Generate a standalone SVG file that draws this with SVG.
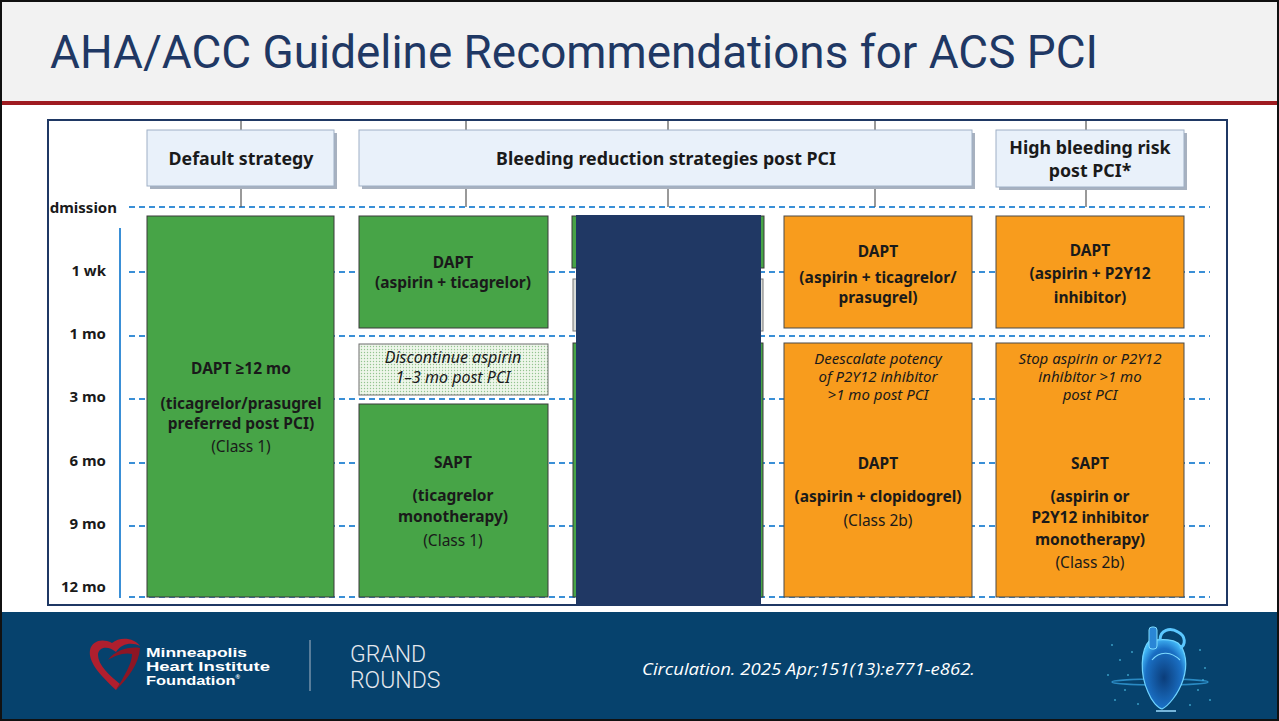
<svg xmlns="http://www.w3.org/2000/svg" width="1279" height="721" viewBox="0 0 1279 721">
  <defs>
    <style>
      .hdr { fill: #e9f1fa; stroke: #9fb0c6; stroke-width: 1; }
      .shadow { fill: #a7b1bf; }
      .green { fill: #47a447; stroke: #3a3a3a; stroke-width: 1; }
      .orange { fill: #f89c1d; stroke: #4a4a4a; stroke-width: 1; }
      .grid { stroke: #3a8fd6; stroke-width: 2; stroke-dasharray: 6 4; fill: none; }
      .conn { stroke: #555; stroke-width: 1.2; fill: none; }
      .t { font-family: "Noto Sans", "Open Sans", sans-serif; fill: #1a1a1a; text-anchor: middle; }
      .b { font-weight: 700; }
      .i { font-style: italic; }
      .hdrt { font-size: 17.8px; font-weight: 700; }
      .bx { font-size: 15.5px; }
      .sm { font-size: 15px; }
      .ax { font-family: "Noto Sans", "Open Sans", sans-serif; font-weight: 700; font-size: 15px; fill: #1a1a1a; text-anchor: end; }
    </style>
    <pattern id="dots" width="3" height="3" patternUnits="userSpaceOnUse">
      <rect width="3" height="3" fill="#eef6ea"/>
      <circle cx="1.5" cy="1.5" r="0.7" fill="#93c48f"/>
    </pattern>
    <radialGradient id="heartGlow" cx="0.5" cy="0.55" r="0.6">
      <stop offset="0" stop-color="#0b3d7a"/>
      <stop offset="0.7" stop-color="#1a6fc4"/>
      <stop offset="1" stop-color="#49c3ff"/>
    </radialGradient>
    <clipPath id="frameClip">
      <rect x="49" y="121" width="1177" height="483"/>
    </clipPath>
  </defs>

  <!-- slide background -->
  <rect x="0" y="0" width="1279" height="721" fill="#ffffff"/>
  <rect x="0" y="0" width="1279" height="102" fill="#f2f2f2"/>
  <rect x="0" y="101" width="1279" height="4" fill="#9e1b20"/>
  <text x="50" y="68" font-family="Roboto, 'Liberation Sans', sans-serif" font-size="47" fill="#1f3864" textLength="1048" lengthAdjust="spacingAndGlyphs">AHA/ACC Guideline Recommendations for ACS PCI</text>

  <!-- figure frame -->
  <rect x="48" y="120" width="1179" height="485" fill="#ffffff" stroke="#1f3864" stroke-width="2"/>

  <!-- time grid -->
  <g id="grid">
    <line class="grid" x1="129" y1="207" x2="1210" y2="207"/>
    <line class="grid" x1="129" y1="272" x2="1210" y2="272"/>
    <line class="grid" x1="129" y1="336" x2="1210" y2="336"/>
    <line class="grid" x1="129" y1="399" x2="1210" y2="399"/>
    <line class="grid" x1="129" y1="463" x2="1210" y2="463"/>
    <line class="grid" x1="129" y1="526" x2="1210" y2="526"/>
    <line class="grid" x1="129" y1="597" x2="1210" y2="597"/>
    <line x1="120" y1="228" x2="120" y2="598" stroke="#3a8fd6" stroke-width="2"/>
  </g>

  <g id="axis-labels">
    <text x="117" y="213" class="ax" clip-path="url(#frameClip)">dmission</text>
    <text x="106" y="276" class="ax">1 wk</text>
    <text x="106" y="339" class="ax">1 mo</text>
    <text x="106" y="402" class="ax">3 mo</text>
    <text x="106" y="466" class="ax">6 mo</text>
    <text x="106" y="529" class="ax">9 mo</text>
    <text x="106" y="592" class="ax">12 mo</text>
  </g>

  <!-- connectors from header boxes -->
  <g id="connectors">
    <line class="conn" x1="241" y1="121" x2="241" y2="131"/>
    <line class="conn" x1="241" y1="186" x2="241" y2="207"/>
    <line class="conn" x1="466" y1="121" x2="466" y2="131"/>
    <line class="conn" x1="466" y1="186" x2="466" y2="207"/>
    <line class="conn" x1="668" y1="121" x2="668" y2="131"/>
    <line class="conn" x1="668" y1="186" x2="668" y2="207"/>
    <line class="conn" x1="875" y1="121" x2="875" y2="131"/>
    <line class="conn" x1="875" y1="186" x2="875" y2="207"/>
    <line class="conn" x1="1086" y1="121" x2="1086" y2="131"/>
    <line class="conn" x1="1086" y1="187" x2="1086" y2="207"/>
  </g>

  <!-- column headers -->
  <g id="hdr-default">
    <rect class="shadow" x="150" y="133" width="187" height="56"/>
    <rect class="hdr" x="147" y="130" width="187" height="56"/>
    <text class="t hdrt" x="241" y="165">Default strategy</text>
  </g>
  <g id="hdr-bleeding">
    <rect class="shadow" x="362" y="133" width="613" height="56"/>
    <rect class="hdr" x="359" y="130" width="613" height="56"/>
    <text class="t hdrt" x="666" y="165">Bleeding reduction strategies post PCI</text>
  </g>
  <g id="hdr-hbr">
    <rect class="shadow" x="999" y="133" width="188" height="57"/>
    <rect class="hdr" x="996" y="130" width="188" height="57"/>
    <text class="t hdrt" x="1090" y="154">High bleeding risk</text>
    <text class="t hdrt" x="1090" y="177">post PCI*</text>
  </g>

  <!-- column 1: default -->
  <g id="col1-dapt12">
    <rect class="green" x="147" y="216" width="187" height="381"/>
    <text class="t b bx" x="241" y="374">DAPT ≥12 mo</text>
    <text class="t b bx" x="241" y="409">(ticagrelor/prasugrel</text>
    <text class="t b bx" x="241" y="429">preferred post PCI)</text>
    <text class="t bx" x="241" y="452">(Class 1)</text>
  </g>

  <!-- column 2: ticagrelor monotherapy -->
  <g id="col2-dapt">
    <rect class="green" x="359" y="216" width="189" height="112"/>
    <text class="t b bx" x="453" y="268">DAPT</text>
    <text class="t b bx" x="453" y="288">(aspirin + ticagrelor)</text>
  </g>
  <g id="col2-discontinue">
    <rect x="359" y="344" width="189" height="51" fill="url(#dots)" stroke="#6e6e6e" stroke-width="1"/>
    <text class="t i" font-size="16" x="453" y="363">Discontinue aspirin</text>
    <text class="t i" font-size="16" x="453" y="383">1–3 mo post PCI</text>
  </g>
  <g id="col2-sapt">
    <rect class="green" x="359" y="404" width="189" height="193"/>
    <text class="t b bx" x="453" y="468">SAPT</text>
    <text class="t b bx" x="453" y="501">(ticagrelor</text>
    <text class="t b bx" x="453" y="522">monotherapy)</text>
    <text class="t bx" x="453" y="546">(Class 1)</text>
  </g>

  <!-- column 3: covered column -->
  <g id="col3">
    <rect class="green" x="572" y="216" width="192" height="52"/>
    <rect x="573" y="279" width="190" height="52" fill="#d9dcd8" stroke="#777" stroke-width="1"/>
    <rect class="green" x="573" y="343" width="190" height="254"/>
    <rect x="576" y="215" width="185" height="390" fill="#203864"/>
  </g>

  <!-- column 4: de-escalation -->
  <g id="col4-dapt">
    <rect class="orange" x="784" y="216" width="188" height="112"/>
    <text class="t b bx" x="878" y="257">DAPT</text>
    <text class="t b bx" x="878" y="283">(aspirin + ticagrelor/</text>
    <text class="t b bx" x="878" y="303">prasugrel)</text>
  </g>
  <g id="col4-deescalate">
    <rect class="orange" x="784" y="343" width="188" height="254"/>
    <text class="t i sm" x="878" y="364">Deescalate potency</text>
    <text class="t i sm" x="878" y="382">of P2Y12 inhibitor</text>
    <text class="t i sm" x="878" y="400">&gt;1 mo post PCI</text>
    <text class="t b bx" x="878" y="469">DAPT</text>
    <text class="t b bx" x="878" y="502">(aspirin + clopidogrel)</text>
    <text class="t bx" x="878" y="526">(Class 2b)</text>
  </g>

  <!-- column 5: high bleeding risk -->
  <g id="col5-dapt">
    <rect class="orange" x="996" y="216" width="188" height="112"/>
    <text class="t b bx" x="1090" y="256">DAPT</text>
    <text class="t b bx" x="1090" y="279">(aspirin + P2Y12</text>
    <text class="t b bx" x="1090" y="303">inhibitor)</text>
  </g>
  <g id="col5-sapt">
    <rect class="orange" x="996" y="343" width="188" height="254"/>
    <text class="t i sm" x="1090" y="364">Stop aspirin or P2Y12</text>
    <text class="t i sm" x="1090" y="382">inhibitor &gt;1 mo</text>
    <text class="t i sm" x="1090" y="400">post PCI</text>
    <text class="t b bx" x="1090" y="469">SAPT</text>
    <text class="t b bx" x="1090" y="502">(aspirin or</text>
    <text class="t b bx" x="1090" y="523">P2Y12 inhibitor</text>
    <text class="t b bx" x="1090" y="545">monotherapy)</text>
    <text class="t bx" x="1090" y="568">(Class 2b)</text>
  </g>

  <!-- footer band -->
  <rect x="0" y="612" width="1279" height="109" fill="#06426d"/>
  <g id="logo">
    <path d="M116 690 C100 675 88 662 90 650 C92 641 102 638 112 643 C120 636 135 638 140 646 C132 642 122 643 116 652 C108 645 98 647 98 655 C98 665 110 676 120 684 Z" fill="#b01f2e"/>
    <path d="M108 660 C115 650 130 646 140 648 C139 664 128 678 116 690 C124 676 132 664 132 654 C124 652 114 656 108 660 Z" fill="#8d1624"/>
    <g font-family="'Liberation Sans', Arial, sans-serif" font-weight="700" font-size="13.5" fill="#ffffff">
      <text x="146" y="657" textLength="101" lengthAdjust="spacingAndGlyphs">Minneapolis</text>
      <text x="146" y="671" textLength="124" lengthAdjust="spacingAndGlyphs">Heart Institute</text>
      <text x="146" y="685" textLength="94" lengthAdjust="spacingAndGlyphs">Foundation<tspan font-size="5" dy="-6">®</tspan></text>
    </g>
  </g>
  <line x1="310" y1="640" x2="310" y2="691" stroke="#aab8c8" stroke-width="1"/>
  <g id="grand-rounds" font-family="Roboto, 'Liberation Sans', sans-serif" font-weight="300" font-size="23" fill="#e4e8ee">
    <text x="350" y="662">GRAND</text>
    <text x="350" y="688">ROUNDS</text>
  </g>
  <text x="642" y="675" font-family="'Open Sans', 'Liberation Sans', sans-serif" font-style="italic" font-size="16" fill="#ffffff" textLength="333" lengthAdjust="spacingAndGlyphs">Circulation. 2025 Apr;151(13):e771-e862.</text>

  <!-- glowing heart artwork -->
  <g id="heart-art">
    <g fill="#4fc3e8" opacity="0.7">
      <circle cx="1112" cy="645" r="1"/><circle cx="1120" cy="660" r="1"/><circle cx="1108" cy="675" r="1"/>
      <circle cx="1125" cy="690" r="1"/><circle cx="1115" cy="700" r="1"/><circle cx="1132" cy="652" r="1"/>
      <circle cx="1200" cy="650" r="1"/><circle cx="1205" cy="668" r="1"/><circle cx="1198" cy="690" r="1"/>
      <circle cx="1210" cy="700" r="1"/><circle cx="1190" cy="705" r="1"/><circle cx="1138" cy="704" r="1"/>
      <circle cx="1128" cy="675" r="1"/><circle cx="1203" cy="680" r="1"/>
    </g>
    <ellipse cx="1160" cy="682" rx="48" ry="3" fill="none" stroke="#3aa9e8" stroke-width="1.5" opacity="0.7"/>
    <path d="M1150 640 C1140 650 1140 675 1148 692 C1152 702 1158 708 1162 709 C1168 706 1178 695 1183 680 C1188 665 1186 650 1178 643 C1170 638 1160 640 1150 640 Z" fill="url(#heartGlow)" stroke="#6fd3ff" stroke-width="1.2"/>
    <rect x="1149" y="627" width="8" height="22" rx="3" fill="#2a86d6" stroke="#7fdcff" stroke-width="1"/>
    <path d="M1160 640 C1160 630 1170 627 1178 632 C1186 636 1186 645 1180 648" fill="none" stroke="#5cc8ff" stroke-width="3"/>
    <path d="M1152 660 C1160 650 1172 652 1180 660" fill="none" stroke="#7fdcff" stroke-width="1.2"/>
    <line x1="1156" y1="711" x2="1176" y2="711" stroke="#9bdcff" stroke-width="1.5"/>
  </g>

  <!-- slide border -->
  <rect x="1" y="1" width="1277" height="719" fill="none" stroke="#111" stroke-width="2"/>
</svg>
